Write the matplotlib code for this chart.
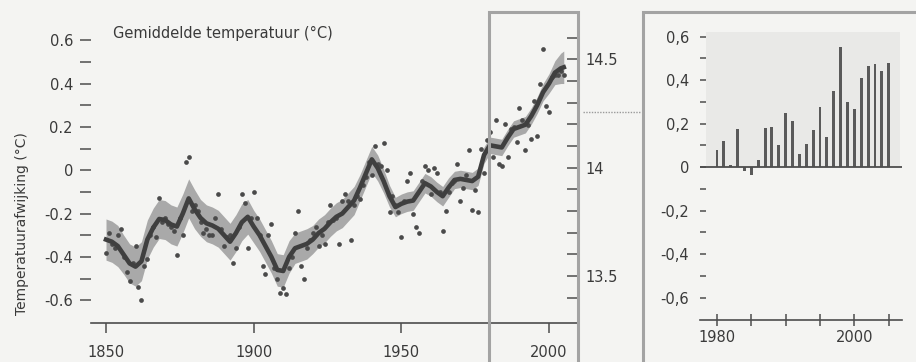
import matplotlib.pyplot as plt
from matplotlib.patches import Rectangle
from matplotlib.lines import Line2D
from matplotlib.ticker import FixedLocator

plt.rcParams['font.family'] = ['DejaVu Sans']

# jaarlijkse temperatuurafwijking (hoofdgrafiek)
years = list(range(1850, 2006))
anomaly = [
    -0.38, -0.29, -0.34, -0.36, -0.30, -0.27, -0.40, -0.47, -0.51, -0.43,
    -0.35, -0.54, -0.60, -0.44, -0.41, -0.30, -0.26, -0.31, -0.13, -0.24,
    -0.22, -0.25, -0.26, -0.28, -0.39, -0.22, -0.30, 0.04, 0.06, -0.19,
    -0.16, -0.19, -0.24, -0.29, -0.27, -0.30, -0.30, -0.22, -0.11, -0.27,
    -0.35, -0.31, -0.30, -0.43, -0.36, -0.26, -0.11, -0.15, -0.36, -0.22,
    -0.10, -0.22, -0.30, -0.44, -0.48, -0.30, -0.25, -0.45, -0.50, -0.565,
    -0.545, -0.57, -0.45, -0.40, -0.29, -0.19, -0.44, -0.50, -0.36, -0.32,
    -0.29, -0.26, -0.35, -0.30, -0.34, -0.24, -0.16, -0.23, -0.22, -0.34,
    -0.14, -0.11, -0.14, -0.32, -0.16, -0.12, -0.135, -0.07, -0.03, 0.04,
    -0.02, 0.11, 0.03, 0.02, 0.125, 0.0, -0.195, -0.12, -0.16, -0.195,
    -0.31, -0.14, -0.05, -0.015, -0.20, -0.26, -0.29, -0.05, 0.02, 0.0,
    -0.11, 0.01, -0.015, -0.10, -0.28, -0.19, -0.10, -0.06, -0.05, 0.03,
    -0.14, -0.08, -0.02, 0.095, -0.185, -0.09, -0.195, 0.10, -0.015, 0.14,
    0.175, 0.06, 0.23, 0.03, 0.02, 0.215, 0.06, 0.19, 0.20, 0.13,
    0.285, 0.23, 0.095, 0.21, 0.145, 0.32, 0.16, 0.40, 0.56, 0.295,
    0.27, 0.43, 0.44, 0.44, 0.46, 0.44,
]

# gladgestreken kromme en breedte van de grijze band
smooth_years = list(range(1850, 2006, 2)) + [2005]
smooth_vals = [
    -0.32, -0.33, -0.35, -0.39, -0.43, -0.445, -0.42, -0.32, -0.265, -0.225,
    -0.23, -0.25, -0.26, -0.20, -0.13, -0.18, -0.22, -0.245, -0.255, -0.27,
    -0.30, -0.33, -0.29, -0.24, -0.215, -0.26, -0.30, -0.35, -0.40, -0.46,
    -0.465, -0.40, -0.36, -0.35, -0.34, -0.32, -0.29, -0.27, -0.24, -0.215,
    -0.20, -0.17, -0.14, -0.08, -0.015, 0.05, 0.01, -0.05, -0.12, -0.17,
    -0.155, -0.145, -0.14, -0.10, -0.06, -0.075, -0.10, -0.12, -0.08, -0.045,
    -0.04, -0.045, -0.05, -0.03, 0.07, 0.115, 0.11, 0.105, 0.15, 0.19,
    0.20, 0.21, 0.25, 0.30, 0.36, 0.40, 0.45, 0.47, 0.475,
]
band_half = [
    0.095, 0.095, 0.095, 0.09, 0.09, 0.09, 0.09, 0.09, 0.09, 0.09,
    0.09, 0.09, 0.09, 0.09, 0.09, 0.09, 0.085, 0.085, 0.085, 0.085,
    0.085, 0.085, 0.085, 0.085, 0.08, 0.075, 0.075, 0.075, 0.075, 0.075,
    0.075, 0.075, 0.07, 0.07, 0.07, 0.065, 0.065, 0.065, 0.065, 0.065,
    0.065, 0.065, 0.065, 0.06, 0.06, 0.06, 0.06, 0.055, 0.05, 0.045,
    0.045, 0.045, 0.045, 0.045, 0.045, 0.045, 0.045, 0.045, 0.045, 0.04,
    0.04, 0.04, 0.04, 0.04, 0.038, 0.038, 0.038, 0.038, 0.038, 0.038,
    0.038, 0.038, 0.038, 0.038, 0.04, 0.045, 0.055, 0.07, 0.075,
]

# inzet: jaarlijkse afwijking 1980-2005
bar_years = list(range(1980, 2006))
bar_vals = [
    0.077, 0.12, 0.01, 0.177, -0.02, -0.035, 0.03, 0.179, 0.185, 0.10,
    0.25, 0.21, 0.06, 0.108, 0.172, 0.274, 0.138, 0.35, 0.55, 0.30,
    0.266, 0.41, 0.465, 0.472, 0.443, 0.48,
]

main_yticks = [-0.6, -0.4, -0.2, 0, 0.2, 0.4, 0.6]
main_ylabels = ['-0.6', '-0.4', '-0.2', '0', '0.2', '0.4', '0.6']
abs_ticks = [13.5, 14, 14.5]
abs_labels = ['13.5', '14', '14.5']
inset_ylabels = ['-0,6', '-0,4', '-0,2', '0', '0,2', '0,4', '0,6']

W, H = 916, 362
BG = '#f4f4f2'
INK = '#4d4d4d'
TXT = '#3a3a3a'
BOX = '#a3a3a3'


def px(x0, y0, x1, y1):
    return [x0 / W, 1 - y1 / H, (x1 - x0) / W, (y1 - y0) / H]


fig = plt.figure(figsize=(W / 100, H / 100), dpi=100, facecolor=BG)

# hoofdgrafiek
ax = fig.add_axes(px(91, 12, 577, 323))
ax.set_facecolor('none')
lo = [v - b for v, b in zip(smooth_vals, band_half)]
hi = [v + b for v, b in zip(smooth_vals, band_half)]
ax.fill_between(smooth_years, lo, hi, color='#a9a9a9', lw=0, zorder=1)
ax.plot(years, anomaly, 'o', ms=3.4, color='#4a4a4a', mew=0, zorder=2)
ax.plot(smooth_years, smooth_vals, color='#3f3f3f', lw=3.3, zorder=3,
        solid_joinstyle='round')
ax.set_xlim(1844.92, 2009.48)
ax.set_ylim(-0.705, 0.73)
for s in ['top', 'right', 'left']:
    ax.spines[s].set_visible(False)
ax.spines['bottom'].set_color(INK)
ax.spines['bottom'].set_linewidth(1.2)
ax.set_xticks([1850, 1900, 1950, 2000])
ax.tick_params(axis='x', direction='out', length=7, width=1.1, colors=INK,
               pad=9, labelsize=10.5, labelcolor=TXT)
ax.set_yticks(main_yticks)
ax.set_yticklabels(main_ylabels)
ax.yaxis.set_minor_locator(FixedLocator([-0.5, -0.3, -0.1, 0.1, 0.3, 0.5]))
ax.tick_params(axis='y', which='both', direction='out', length=8, width=1.1,
               colors=INK, pad=5, labelsize=10.5, labelcolor=TXT)

# rechteras in absolute temperatuur
ax2 = ax.twinx()
ax2.set_ylim(-0.705 + 13.988, 0.73 + 13.988)
for s in ax2.spines.values():
    s.set_visible(False)
ax2.set_yticks(abs_ticks)
ax2.set_yticklabels(abs_labels)
ax2.yaxis.set_minor_locator(FixedLocator(
    [13.4, 13.6, 13.7, 13.8, 13.9, 14.1, 14.2, 14.3, 14.4, 14.6]))
ax2.tick_params(axis='y', which='both', direction='in', length=7, width=1.1,
                colors=INK, pad=6, labelsize=10.5, labelcolor=TXT)

fig.text(113 / W, 1 - 33 / H, 'Gemiddelde temperatuur (°C)', ha='left',
         va='center', fontsize=10.5, color=TXT)
fig.text(22 / W, 1 - 224 / H, 'Temperatuurafwijking (°C)', rotation=90,
         ha='center', va='center', fontsize=10, color=TXT)

# kaders en verbindingslijn
fig.add_artist(Rectangle((489 / W, -0.05), (578 - 489) / W, 1 - 12 / H + 0.05,
                         fill=False, ec=BOX, lw=2.2, transform=fig.transFigure))
fig.add_artist(Rectangle((643 / W, -0.05), 0.5, 1 - 12 / H + 0.05,
                         fill=False, ec=BOX, lw=2.2, transform=fig.transFigure))
fig.add_artist(Line2D([583 / W, 641 / W], [1 - 111.5 / H] * 2, ls=(0, (1, 1)),
                      color='#9a9a9a', lw=1.0, transform=fig.transFigure))

# inzet met staven
axi = fig.add_axes(px(700, 32, 902, 320))
axi.set_facecolor('none')
axi.set_xlim(1977.53, 2006.93)
axi.set_ylim(-0.7034, 0.6207)
axi.add_patch(Rectangle((1978.4, 0), 28.25, 0.6207, color='#e9e9e7', lw=0,
                        zorder=0))
axi.bar(bar_years, bar_vals, width=0.42, color='#5a5a5a', zorder=2)
axi.axhline(0, color=INK, lw=1.3, zorder=3)
for s in ['top', 'right', 'left']:
    axi.spines[s].set_visible(False)
axi.spines['bottom'].set_color(INK)
axi.spines['bottom'].set_linewidth(1.2)
axi.set_xticks([1980, 1985, 1990, 1995, 2000, 2005])
axi.set_xticklabels(['1980', '', '', '', '2000', ''])
axi.tick_params(axis='x', direction='inout', length=9, width=1.1, colors=INK,
                pad=3, labelsize=10.5, labelcolor=TXT)
axi.set_yticks(main_yticks)
axi.set_yticklabels(inset_ylabels)
axi.yaxis.set_minor_locator(FixedLocator([-0.5, -0.3, -0.1, 0.1, 0.3, 0.5]))
axi.tick_params(axis='y', which='both', direction='in', length=4, width=1.1,
                colors=INK, pad=8, labelsize=10.5, labelcolor=TXT)

fig.savefig('out.png', dpi=100, facecolor=BG)
